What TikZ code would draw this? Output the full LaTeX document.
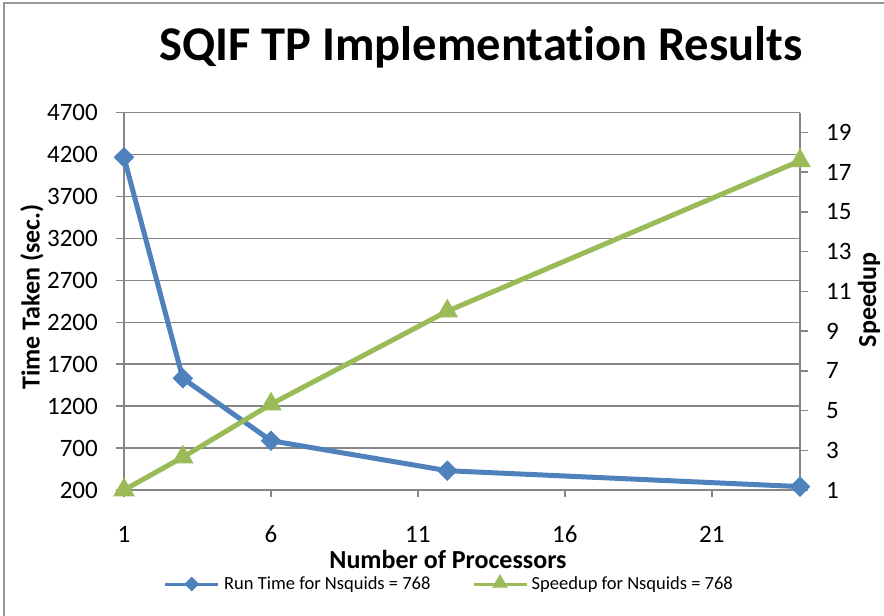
\documentclass[tikz,border=0pt]{standalone}
\usepackage{fontspec}
\setmainfont{Carlito}[Ligatures=NoCommon]
\usetikzlibrary{shapes.geometric}
\definecolor{runblue}{RGB}{79,129,189}
\definecolor{spgreen}{RGB}{155,187,89}
\definecolor{gridgray}{RGB}{134,134,134}
\definecolor{framegray}{RGB}{150,150,150}
\begin{document}
\begin{tikzpicture}[x=1pt,y=-1pt,
  gridline/.style={draw=gridgray,line width=1.5pt},
  axisline/.style={draw=gridgray,line width=1.5pt},
  ticklab/.style={font=\fontsize{25}{25}\selectfont,inner sep=0pt},
  axtitle/.style={font=\fontsize{26}{26}\selectfont\bfseries,inner sep=0pt},
  legtext/.style={font=\fontsize{18.5}{18.5}\selectfont,inner sep=0pt,anchor=west},
  bluel/.style={draw=runblue,line width=5pt,line join=round},
  greenl/.style={draw=spgreen,line width=5pt,line join=round},
  bmark/.style={diamond,fill=runblue,inner sep=0pt,minimum width=20pt,minimum height=20pt},
  gmark/.style={regular polygon,regular polygon sides=3,fill=spgreen,inner sep=0pt,minimum size=25pt},
  bmarks/.style={diamond,fill=runblue,inner sep=0pt,minimum width=15pt,minimum height=15pt},
  gmarks/.style={regular polygon,regular polygon sides=3,fill=spgreen,inner sep=0pt,minimum size=18pt}]
\useasboundingbox (0,0) rectangle (884,616);
\fill[white] (0,0) rectangle (884,616);
% frame
\draw[framegray,line width=2pt] (4,620) -- (4,3) -- (890,3);
% title
\node[inner sep=0pt,anchor=base,font=\fontsize{48.5}{48.5}\selectfont\bfseries] (title) at (481,60) {SQIF TP Implementation Results};
% gridlines
\foreach \yy in {112.6,154.6,196.5,238.4,280.4,322.3,364.2,406.1,448.1}
  \draw[gridline] (124,\yy) -- (800,\yy);
% axes
\draw[axisline] (124,112.6) -- (124,490) -- (800,490) -- (800,112.6);
% left ticks and labels
\foreach \yy/\lab in {490/200,448.1/700,406.1/1200,364.2/1700,322.3/2200,280.4/2700,238.4/3200,196.5/3700,154.6/4200,112.6/4700}{
  \draw[axisline] (116,\yy) -- (124,\yy);
  \node[ticklab,anchor=east] (l\lab) at (98,\yy) {\lab};
}
% right ticks and labels
\foreach \yy/\lab in {490/1,450.3/3,410.5/5,370.8/7,331/9,291.3/11,251.6/13,211.8/15,172.1/17,132.4/19}{
  \draw[axisline] (800,\yy) -- (808,\yy);
  \node[ticklab,anchor=west] (r\lab) at (826,\yy) {\lab};
}
% bottom ticks and labels
\foreach \xx/\lab in {124/1,271/6,417.9/11,564.9/16,711.8/21}{
  \draw[axisline] (\xx,490) -- (\xx,497);
  \node[ticklab] (b\lab) at (\xx,534) {\lab};
}
% axis titles
\node[axtitle,rotate=90] (ytitle) at (32,297) {Time Taken (sec.)};
\node[axtitle,rotate=90] (y2title) at (869,300) {Speedup};
\node[axtitle] (xtitle) at (448,559) {Number of Processors};
% data: run time
\node[bmark] (b1) at (124,157.4) {};
\node[bmark] (b3) at (182.8,378.3) {};
\node[bmark] (b6) at (271,440.7) {};
\node[bmark] (b12) at (447.3,470.7) {};
\node[bmark] (b24) at (800,486.6) {};
\draw[bluel] (b1.center) -- (b3.center) -- (b6.center) -- (b12.center) -- (b24.center);
\foreach \n in {b1,b3,b6,b12,b24}
  \fill[runblue] (\n.north) -- (\n.east) -- (\n.south) -- (\n.west) -- cycle;
% data: speedup
\coordinate (g1) at (124,490);
\coordinate (g3) at (182.8,457.2);
\coordinate (g6) at (271,404.2);
\coordinate (g12) at (447.3,311.2);
\coordinate (g24) at (800,160.8);
\draw[greenl] (g1) -- (g3) -- (g6) -- (g12) -- (g24);
\foreach \n in {g1,g3,g6,g12,g24}
  \node[gmark] (m\n) at (\n) {};
% legend
\coordinate (la) at (165,584);
\coordinate (lb) at (218,584);
\draw[draw=runblue,line width=3pt] (la) -- (lb);
\node[bmarks] (lbm) at (191.7,584) {};
\node[legtext] (lbt) at (224,585) {Run Time for Nsquids = 768};
\coordinate (lc) at (474,584);
\coordinate (ld) at (527,584);
\draw[draw=spgreen,line width=3pt] (lc) -- (ld);
\node[gmarks] (lgm) at (500,583) {};
\node[legtext] (lgt) at (531.5,585) {Speedup for Nsquids = 768};
\end{tikzpicture}
\end{document}
